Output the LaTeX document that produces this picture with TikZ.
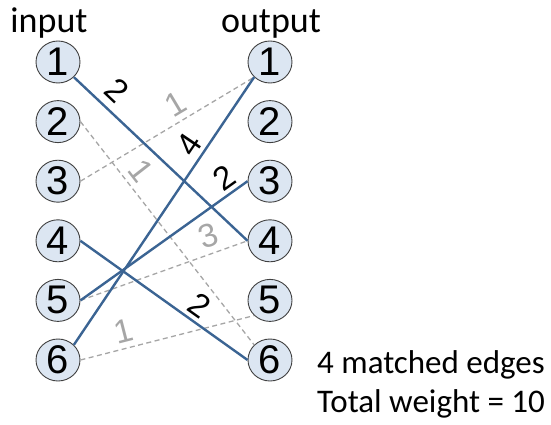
\documentclass[tikz,border=0pt]{standalone}
\usepackage{fontspec}
\setmainfont{Carlito}
\newfontfamily\digitfont{Liberation Sans}
\usetikzlibrary{shapes.geometric}

\definecolor{matchblue}{HTML}{3B6493}
\definecolor{vertexfill}{HTML}{DCE6F2}
\definecolor{edgegray}{HTML}{A6A6A6}

\begin{document}
\begin{tikzpicture}[
  x=1pt, y=1pt,
  vertex/.style={ellipse, draw=black!75, line width=0.9pt, fill=vertexfill,
                 minimum width=44pt, minimum height=42pt, inner sep=0pt,
                 font=\digitfont\fontsize{40}{42}\selectfont},
  side/.style={font=\fontsize{36}{40}\selectfont, inner sep=0pt, anchor=base},
  summary/.style={font=\fontsize{33}{39}\selectfont, inner sep=0pt,
                  anchor=base west},
  matched/.style={draw=matchblue, line width=2.4pt},
  unmatched/.style={draw=edgegray, line width=1.3pt,
                    dash pattern=on 5pt off 3.5pt},
  wlabel/.style={sloped, above=3pt, inner sep=0pt,
                 font=\digitfont\fontsize{33}{36}\selectfont},
  wmatched/.style={wlabel, text=black},
  wunmatched/.style={wlabel, text=edgegray}
]
  \useasboundingbox (0,0) rectangle (551,424);

  % column headings
  \node[side] (inhead) at (49,391) {input};
  \node[side] (outhead) at (271,391) {output};

  % left column
  \node[vertex] (in1) at (58,362.0) {1};
  \node[vertex] (in2) at (58,302.4) {2};
  \node[vertex] (in3) at (58,242.8) {3};
  \node[vertex] (in4) at (58,183.2) {4};
  \node[vertex] (in5) at (58,123.6) {5};
  \node[vertex] (in6) at (58,64.0) {6};

  % right column
  \node[vertex] (out1) at (270,362.0) {1};
  \node[vertex] (out2) at (270,302.4) {2};
  \node[vertex] (out3) at (270,242.8) {3};
  \node[vertex] (out4) at (270,183.2) {4};
  \node[vertex] (out5) at (270,123.6) {5};
  \node[vertex] (out6) at (270,64.0) {6};

  % edges left out of the matching
  \draw[unmatched] (in3.east) -- node[wunmatched, pos=0.60, above=2pt]{1}
    (out1.south west);
  \draw[unmatched] (in2.east) -- node[wunmatched, pos=0.27, above=3pt]{1}
    (out6.north west);
  \draw[unmatched] (in5.east) -- node[wunmatched, pos=0.80, above=3pt]{3}
    (out4.west);
  \draw[unmatched] (in6.east) -- node[wunmatched, pos=0.27, above=2pt]{1}
    (out5.south west);

  % matched edges
  \draw[matched] (in1.south east) -- node[wmatched, pos=0.17, above=4pt]{2}
    (out4.west);
  \draw[matched] (in6.north east) -- node[wmatched, pos=0.715, above=1pt]{4}
    (out1.south west);
  \draw[matched] (in5.east) -- node[wmatched, pos=0.917, above=0.5pt]{2}
    (out3.west);
  \draw[matched] (in4.east) -- node[wmatched, pos=0.655, above=0.5pt]{2}
    (out6.west);

  \node[summary] (count) at (317,51) {4 matched edges};
  \node[summary] (total) at (317,12) {Total weight = 10};
\end{tikzpicture}
\end{document}
